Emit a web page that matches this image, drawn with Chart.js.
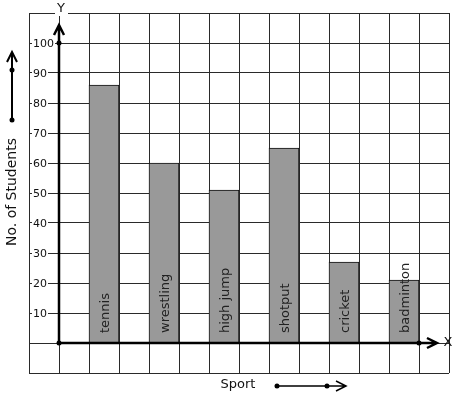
<!DOCTYPE html>
<html>
<head>
<meta charset="utf-8">
<script src="https://cdn.jsdelivr.net/npm/chart.js@4"></script>
<style>
  html, body { margin: 0; padding: 0; background: #fff; }
  canvas { display: block; }
</style>
</head>
<body>
<canvas id="myChart" width="457" height="399"></canvas>
<script>
// Data
const sports = ["tennis", "wrestling", "high jump", "shotput", "cricket", "badminton"];
const students = [86, 60, 51, 65, 27, 21];
// column of the grid each bar sits in (grid has 14 columns)
const sportColumns = [2, 4, 6, 8, 10, 12];
const yTicks = [10, 20, 30, 40, 50, 60, 70, 80, 90, 100];

const FONT = "DejaVu Sans, sans-serif";

// Build the 14 column table Chart.js needs
const columnLabels = [];
const columnValues = [];
for (let i = 0; i < 14; i++) {
    const k = sportColumns.indexOf(i);
    columnLabels.push(k >= 0 ? sports[k] : "c" + i);
    columnValues.push(k >= 0 ? students[k] : null);
}

function dot(ctx, x, y) {
    ctx.beginPath();
    ctx.arc(x, y, 2.5, 0, Math.PI * 2);
    ctx.fill();
}

// Axes, arrows, tick labels and bar labels
const drawExtras = {
    id: "drawExtras",
    afterDatasetsDraw(chart) {
        const ctx = chart.ctx;
        const xs = chart.scales.x;
        const ys = chart.scales.y;
        const ox = xs.getPixelForValue(0) + 15; // y axis sits on grid line left of col 1
        const oy = ys.getPixelForValue(0);
        ctx.save();

        // labels inside bars
        ctx.fillStyle = "#222";
        ctx.font = "13px " + FONT;
        chart.getDatasetMeta(0).data.forEach((bar, i) => {
            const k = sportColumns.indexOf(i);
            if (k < 0) return;
            ctx.save();
            ctx.translate(bar.x + 5, oy - 10);
            ctx.rotate(-Math.PI / 2);
            ctx.textAlign = "left";
            ctx.textBaseline = "alphabetic";
            ctx.fillText(sports[k], 0, 0);
            ctx.restore();
        });

        // y tick labels with white boxes
        ctx.font = "11px " + FONT;
        ctx.textBaseline = "middle";
        ctx.textAlign = "left";
        yTicks.forEach(v => {
            const y = ys.getPixelForValue(v);
            const w = ctx.measureText(String(v)).width;
            ctx.fillStyle = "#fff";
            ctx.fillRect(32, y - 6, w + 2, 12);
            ctx.fillStyle = "#111";
            ctx.fillText(String(v), 33, y + 1);
        });

        ctx.strokeStyle = "#000";
        ctx.fillStyle = "#000";
        ctx.lineWidth = 2.5;
        ctx.lineCap = "butt";

        // y axis
        const yTop = ys.getPixelForValue(106);
        ctx.beginPath();
        ctx.moveTo(ox, oy);
        ctx.lineTo(ox, yTop);
        ctx.moveTo(ox - 5, yTop + 10);
        ctx.lineTo(ox, yTop);
        ctx.lineTo(ox + 5, yTop + 10);
        ctx.stroke();
        dot(ctx, ox, oy);
        dot(ctx, ox, ys.getPixelForValue(100));

        // x axis
        const xEnd = xs.getPixelForValue(12) + 33;
        ctx.beginPath();
        ctx.moveTo(ox, oy);
        ctx.lineTo(xEnd, oy);
        ctx.moveTo(xEnd - 10, oy - 5);
        ctx.lineTo(xEnd, oy);
        ctx.lineTo(xEnd - 10, oy + 5);
        ctx.stroke();
        dot(ctx, xs.getPixelForValue(12) + 15, oy);

        // axis letters
        ctx.font = "13px " + FONT;
        ctx.textBaseline = "middle";
        ctx.textAlign = "center";
        ctx.fillStyle = "#fff";
        ctx.fillRect(ox - 4, 3, 13, 13);
        ctx.fillStyle = "#111";
        ctx.fillText("Y", ox + 2, 9);
        ctx.fillText("X", 448, oy);

        // axis titles
        ctx.font = "14px " + FONT;
        ctx.save();
        ctx.translate(12, 192);
        ctx.rotate(-Math.PI / 2);
        ctx.fillText("No. of Students", 0, 0);
        ctx.restore();
        ctx.font = "13px " + FONT;
        ctx.fillText("Sport", 238, 385);

        // direction arrows
        ctx.strokeStyle = "#000";
        ctx.fillStyle = "#000";
        ctx.lineWidth = 2;
        ctx.beginPath();
        ctx.moveTo(12, 120);
        ctx.lineTo(12, 52);
        ctx.moveTo(7, 62);
        ctx.lineTo(12, 52);
        ctx.lineTo(17, 62);
        ctx.stroke();
        dot(ctx, 12, 120);
        dot(ctx, 12, 70);

        ctx.lineWidth = 1.5;
        ctx.beginPath();
        ctx.moveTo(277, 386);
        ctx.lineTo(346, 386);
        ctx.moveTo(336, 381);
        ctx.lineTo(346, 386);
        ctx.lineTo(336, 391);
        ctx.stroke();
        dot(ctx, 277, 386);
        dot(ctx, 327, 386);

        ctx.restore();
    }
};

const ctx = document.getElementById("myChart").getContext("2d");
new Chart(ctx, {
    type: "bar",
    data: {
        labels: columnLabels,
        datasets: [{
            data: columnValues,
            backgroundColor: "#999999",
            borderColor: "#111",
            borderWidth: 1,
            barPercentage: 1,
            categoryPercentage: 1
        }]
    },
    options: {
        responsive: false,
        animation: false,
        layout: { padding: { left: 29, top: 13, right: 8, bottom: 26 } },
        plugins: {
            legend: { display: false },
            tooltip: { enabled: false }
        },
        scales: {
            x: {
                type: "category",
                offset: true,
                ticks: { display: false },
                grid: { color: "#2a2a2a", lineWidth: 1, drawTicks: false, offset: true },
                border: { display: false }
            },
            y: {
                min: -10,
                max: 110,
                ticks: { display: false, stepSize: 10 },
                grid: { color: "#2a2a2a", lineWidth: 1, drawTicks: false },
                border: { display: false }
            }
        }
    },
    plugins: [drawExtras]
});
</script>
</body>
</html>
